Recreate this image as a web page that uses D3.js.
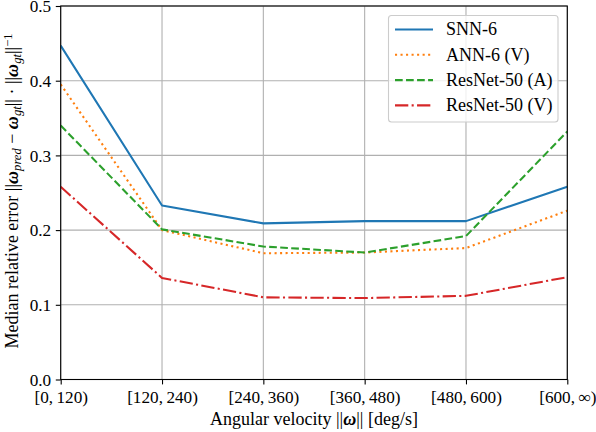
<!DOCTYPE html>
<html><head><meta charset="utf-8">
<script src="https://cdn.jsdelivr.net/npm/d3@7"></script>
<style>
html,body{margin:0;padding:0;background:#fff;}
svg{display:block;font-family:"Liberation Serif","Times New Roman",serif;}
</style></head>
<body>
<svg id="c" width="596" height="432"></svg>
<script>
const categories = ["[0,\u2009120)", "[120,\u2009240)", "[240,\u2009360)", "[360,\u2009480)", "[480,\u2009600)", "[600,\u2009\u221E)"];
const yTicks = [0.0, 0.1, 0.2, 0.3, 0.4, 0.5];
const snn6 = [0.447, 0.233, 0.209, 0.212, 0.212, 0.258];
const ann6V = [0.395, 0.200, 0.169, 0.170, 0.176, 0.226];
const resnetA = [0.340, 0.201, 0.178, 0.170, 0.192, 0.332];
const resnetV = [0.258, 0.136, 0.110, 0.109, 0.112, 0.137];
const seriesNames = ["SNN-6", "ANN-6 (V)", "ResNet-50 (A)", "ResNet-50 (V)"];

const series = [
  {name: seriesNames[0], values: snn6, color: "#1f77b4", dash: null},
  {name: seriesNames[1], values: ann6V, color: "#ff7f0e", dash: "2.08,3.44"},
  {name: seriesNames[2], values: resnetA, color: "#2ca02c", dash: "7.7,3.33"},
  {name: seriesNames[3], values: resnetV, color: "#d62728", dash: "13.3,3.33,2.08,3.33"}
];

const L = 60.7, R = 567.3, T = 6, B = 379.5;
const FS = 18, TFS = 17.2;
const svg = d3.select("#c");
const x = d3.scalePoint().domain(categories).range([L, R]);
const y = d3.scaleLinear().domain([0, 0.5]).range([B, T]);

// grid
const g = svg.append("g");
g.selectAll("line.gx").data(categories).join("line")
  .attr("x1", d => x(d)).attr("x2", d => x(d)).attr("y1", T).attr("y2", B)
  .attr("stroke", "#b0b0b0").attr("stroke-width", 1.1);
g.selectAll("line.gy").data(yTicks).join("line")
  .attr("x1", L).attr("x2", R).attr("y1", d => y(d)).attr("y2", d => y(d))
  .attr("stroke", "#b0b0b0").attr("stroke-width", 1.1);

// axes
const xAxis = svg.append("g").attr("transform", `translate(0,${B})`)
  .call(d3.axisBottom(x).tickSize(4.9).tickPadding(4.5));
const yAxis = svg.append("g").attr("transform", `translate(${L},0)`)
  .call(d3.axisLeft(y).tickValues(yTicks).tickFormat(d3.format(".1f")).tickSize(4.9).tickPadding(4.5));
[xAxis, yAxis].forEach(a => {
  a.select(".domain").remove();
  a.selectAll("line").attr("stroke", "#000").attr("stroke-width", 1.1);
  a.selectAll("text").attr("font-size", TFS).attr("fill", "#000")
    .attr("font-family", '"Liberation Serif", serif');
});
xAxis.selectAll("text").attr("dy", null).attr("y", 23.5);
yAxis.selectAll("text").attr("dy", "0.34em").attr("x", -9.5);

// lines
const line = d3.line().x((d, i) => x(categories[i])).y(d => y(d));
svg.append("clipPath").attr("id", "clip").append("rect")
  .attr("x", L).attr("y", T).attr("width", R - L).attr("height", B - T);
svg.append("g").attr("clip-path", "url(#clip)")
  .selectAll("path").data(series).join("path")
  .attr("d", d => line(d.values))
  .attr("fill", "none").attr("stroke", d => d.color).attr("stroke-width", 2.08)
  .attr("stroke-dasharray", d => d.dash).attr("stroke-linejoin", "round");

// spines
svg.append("rect").attr("x", L).attr("y", T).attr("width", R - L).attr("height", B - T)
  .attr("fill", "none").attr("stroke", "#000").attr("stroke-width", 1.1);

// legend
const lg = svg.append("g");
lg.append("rect").attr("x", 388.5).attr("y", 15.5).attr("width", 169.5).attr("height", 106.5)
  .attr("rx", 3).attr("fill", "#fff").attr("fill-opacity", 0.8).attr("stroke", "#cccccc").attr("stroke-width", 1.1);
const rows = lg.selectAll("g.row").data(series).join("g")
  .attr("transform", (d, i) => `translate(0,${29.5 + i * 25.3})`);
rows.append("line").attr("x1", 395).attr("x2", 433).attr("y1", 0).attr("y2", 0)
  .attr("stroke", d => d.color).attr("stroke-width", 2.08).attr("stroke-dasharray", d => d.dash);
rows.append("text").attr("x", 446).attr("y", 0).attr("dy", "0.33em")
  .attr("font-size", FS).attr("fill", "#000").text(d => d.name);

// x label
const xl = svg.append("text").attr("x", 314).attr("y", 424.5).attr("text-anchor", "middle")
  .attr("font-size", FS).attr("fill", "#000");
xl.append("tspan").text("Angular velocity ||");
xl.append("tspan").attr("font-style", "italic").attr("font-weight", "bold").text("\u03C9");
xl.append("tspan").text("|| [deg/s]");

// y label
const yl = svg.append("text").attr("transform", `translate(17.5,191) rotate(-90)`)
  .attr("text-anchor", "middle").attr("font-size", FS).attr("fill", "#000");
yl.append("tspan").text("Median relative error ||");
yl.append("tspan").attr("font-style", "italic").attr("font-weight", "bold").text("\u03C9");
yl.append("tspan").attr("font-style", "italic").attr("font-size", FS * 0.7).attr("dy", 3).text("pred");
yl.append("tspan").attr("dy", -3).text(" \u2212 ");
yl.append("tspan").attr("font-style", "italic").attr("font-weight", "bold").text("\u03C9");
yl.append("tspan").attr("font-style", "italic").attr("font-size", FS * 0.7).attr("dy", 3).text("gt");
yl.append("tspan").attr("dy", -3).text("|| \u00B7 ||");
yl.append("tspan").attr("font-style", "italic").attr("font-weight", "bold").text("\u03C9");
yl.append("tspan").attr("font-style", "italic").attr("font-size", FS * 0.7).attr("dy", 3).text("gt");
yl.append("tspan").attr("dy", -3).text("||");
yl.append("tspan").attr("font-size", FS * 0.7).attr("dy", -6).text("\u22121");
</script>
</body></html>
